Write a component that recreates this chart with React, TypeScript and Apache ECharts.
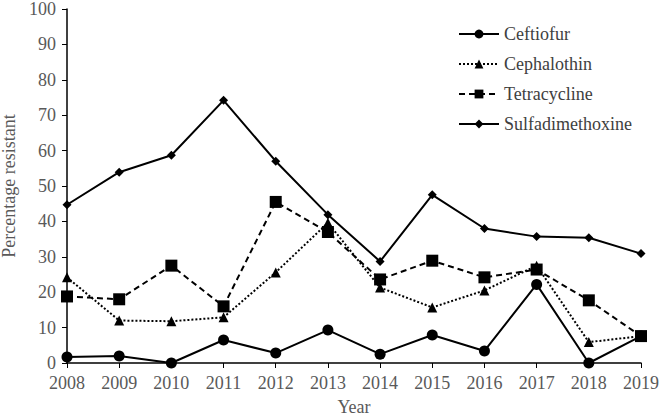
import React, { useEffect, useRef } from "react";
import * as echarts from "echarts";

const years = ["2008", "2009", "2010", "2011", "2012", "2013", "2014", "2015", "2016", "2017", "2018", "2019"];
const ceftiofur = [1.7, 2.0, 0, 6.5, 2.8, 9.3, 2.5, 7.9, 3.4, 22.2, 0, 7.6];
const cephalothin = [24.2, 12.0, 11.8, 12.9, 25.6, 39.6, 21.3, 15.7, 20.5, 27.5, 5.9, 7.6];
const tetracycline = [18.8, 18.0, 27.5, 16.0, 45.5, 37.0, 23.6, 28.9, 24.2, 26.4, 17.7, 7.6];
const sulfadimethoxine = [44.7, 53.9, 58.7, 74.2, 57.0, 41.9, 28.7, 47.5, 38.0, 35.7, 35.4, 30.9];

const FONT = "Liberation Serif";

export default function App() {
  const ref = useRef<HTMLDivElement>(null);
  useEffect(() => {
    if (!ref.current) return;
    const chart = echarts.init(ref.current, undefined, { renderer: "svg" });
    const mk = (name: string, data: number[], symbol: string, size: number, type: any) => ({
      name,
      type: "line",
      data,
      symbol,
      symbolSize: size,
      showSymbol: true,
      itemStyle: { color: "#000" },
      lineStyle: { color: "#000", width: 2, type },
      z: 2,
    });
    chart.setOption({
      animation: false,
      textStyle: { fontFamily: FONT },
      grid: { left: 67, right: 19, top: 9, bottom: 54, containLabel: false, outerBoundsMode: "none" },
      legend: {
        orient: "vertical",
        left: 458,
        top: 25,
        padding: 0,
        itemWidth: 40,
        itemHeight: 11,
        itemGap: 12,
        textStyle: { fontFamily: FONT, fontSize: 18, color: "#404040" },
        data: ["Ceftiofur", "Cephalothin", "Tetracycline", "Sulfadimethoxine"],
      },
      xAxis: {
        type: "category",
        data: years,
        boundaryGap: false,
        name: "Year",
        nameLocation: "middle",
        nameGap: 35,
        nameTextStyle: { fontFamily: FONT, fontSize: 18, color: "#595959" },
        axisLine: { lineStyle: { color: "#000", width: 1.5 } },
        axisTick: { show: true, length: 5, lineStyle: { color: "#000" } },
        axisLabel: { fontFamily: FONT, fontSize: 18, color: "#595959", margin: 11 },
        splitLine: { show: false },
      },
      yAxis: {
        type: "value",
        min: 0,
        max: 100,
        interval: 10,
        name: "Percentage resistant",
        nameLocation: "middle",
        nameGap: 40,
        nameTextStyle: { fontFamily: FONT, fontSize: 18, color: "#595959" },
        axisLine: { show: true, lineStyle: { color: "#000", width: 1.5 } },
        axisTick: { show: true, length: 5, lineStyle: { color: "#000" } },
        axisLabel: { fontFamily: FONT, fontSize: 18, lineHeight: 18, color: "#595959", margin: 11 },
        splitLine: { show: false },
      },
      series: [
        mk("Ceftiofur", ceftiofur, "circle", 11, "solid"),
        mk("Cephalothin", cephalothin, "triangle", 10, "dotted"),
        mk("Tetracycline", tetracycline, "rect", 12, [6, 4]),
        mk("Sulfadimethoxine", sulfadimethoxine, "diamond", 9, "solid"),
      ],
    });
    return () => chart.dispose();
  }, []);
  return <div ref={ref} style={{ width: 660, height: 417, position: "absolute", left: 0, top: 0 }} />;
}
